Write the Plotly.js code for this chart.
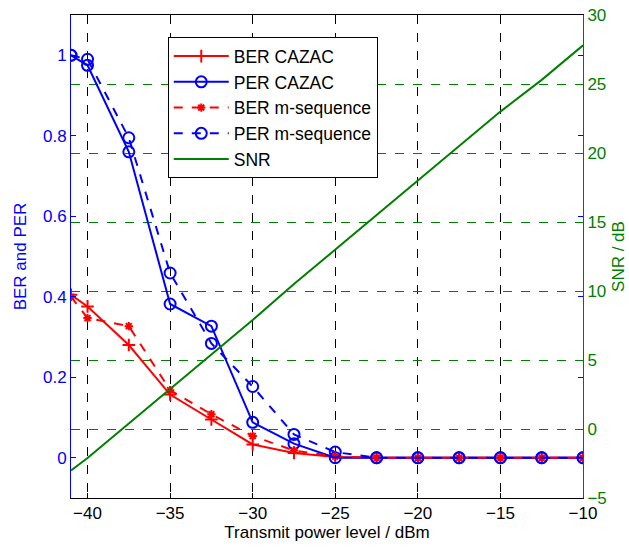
<!DOCTYPE html>
<html>
<head>
<meta charset="utf-8">
<script src="https://cdn.plot.ly/plotly-3.0.1.min.js"></script>
<style>html,body{margin:0;padding:0;background:#fff;}#chart{width:629px;height:548px;}</style>
</head>
<body>
<div id="chart"></div>
<script>
const power = [-41, -40, -37.5, -35, -32.5, -30, -27.5, -25, -22.5, -20, -17.5, -15, -12.5, -10];
const berCazac = [0.405, 0.376, 0.28, 0.157, 0.095, 0.033, 0.012, 0.002, 0, 0, 0, 0, 0, 0];
const perCazac = [1.0, 0.975, 0.76, 0.382, 0.327, 0.088, 0.035, 0, 0, 0, 0, 0, 0, 0];
const berMseq = [0.40, 0.347, 0.327, 0.168, 0.108, 0.054, 0.018, 0.003, 0, 0, 0, 0, 0, 0];
const perMseq = [1.0, 0.99, 0.795, 0.459, 0.284, 0.177, 0.058, 0.014, 0, 0, 0, 0, 0, 0];
const snr = [-3.0, -2.1, 0.4, 2.9, 5.4, 7.9, 10.5, 13.0, 15.5, 18.0, 20.5, 23.0, 25.3, 27.8];

const xTicks = [-40, -35, -30, -25, -20, -15, -10];
const yTicks = [0, 0.2, 0.4, 0.6, 0.8, 1];
const yTickText = ['0', '0.2', '0.4', '0.6', '0.8', '1'];
const y2Ticks = [-5, 0, 5, 10, 15, 20, 25, 30];

const RED = '#ff0000', BLUE = '#0000ff', GREEN = '#008000';
const FONT = 'Arial, "Liberation Sans", sans-serif';

const traces = [
  {x: power, y: berCazac, name: 'BER CAZAC', mode: 'lines+markers', legendgroup: 'a',
   line: {color: RED, width: 2}, marker: {symbol: 'cross-thin-open', size: 9, color: RED, line: {color: RED, width: 2}}},
  {x: power, y: perCazac, name: 'PER CAZAC', mode: 'lines+markers', legendgroup: 'b',
   line: {color: BLUE, width: 2}, marker: {symbol: 'circle-open', size: 11, color: BLUE, line: {color: BLUE, width: 2}}},
  {x: power, y: berMseq, name: 'BER m-sequence', mode: 'lines+markers', legendgroup: 'c',
   line: {color: RED, width: 2, dash: 'dash'}, marker: {symbol: 'asterisk-open', size: 7, color: RED, line: {color: RED, width: 2}}},
  {x: power, y: perMseq, name: 'PER m-sequence', mode: 'lines+markers', legendgroup: 'd',
   line: {color: BLUE, width: 2, dash: 'dash'}, marker: {symbol: 'circle-open', size: 11, color: BLUE, line: {color: BLUE, width: 2}}},
  {x: power, y: snr, name: 'SNR', mode: 'lines', yaxis: 'y2', legendgroup: 'e',
   line: {color: GREEN, width: 2}}
];

const layout = {
  width: 629, height: 548,
  margin: {l: 71, r: 46, t: 15, b: 50},
  paper_bgcolor: '#fff', plot_bgcolor: '#fff',
  font: {family: FONT, size: 17, color: '#000'},
  showlegend: true,
  legend: {x: 0.189, y: 0.954, xanchor: 'left', yanchor: 'top', bgcolor: '#fff',
           bordercolor: '#000', borderwidth: 1, font: {family: FONT, size: 17.5, color: '#000'},
           traceorder: 'grouped', tracegroupgap: 0, itemwidth: 55},
  xaxis: {range: [-41, -10], tickvals: xTicks, ticks: 'inside', ticklen: 5, tickcolor: '#000',
          showline: true, linecolor: '#000', linewidth: 1, mirror: 'ticks',
          showgrid: true, gridcolor: '#000', griddash: 'dash', gridwidth: 1, zeroline: false,
          tickfont: {family: FONT, size: 17, color: '#000'},
          title: {text: 'Transmit power level / dBm', font: {family: FONT, size: 17, color: '#000'}, standoff: 1}},
  yaxis: {range: [-0.1, 1.1], tickvals: yTicks, ticktext: yTickText, ticks: 'inside', ticklen: 5, tickcolor: BLUE,
          showline: true, linecolor: BLUE, linewidth: 1, mirror: 'ticks', showgrid: false, zeroline: false,
          tickfont: {family: FONT, size: 17, color: BLUE},
          title: {text: 'BER and PER', font: {family: FONT, size: 17, color: BLUE}, standoff: 12}},
  yaxis2: {range: [-5, 30], tickvals: y2Ticks, overlaying: 'y', side: 'right', ticks: 'inside', ticklen: 5,
           tickcolor: GREEN, showline: true, linecolor: '#1d5e4a', linewidth: 1,
           showgrid: true, gridcolor: GREEN, griddash: 'dash', gridwidth: 1, zeroline: false,
           tickfont: {family: FONT, size: 17, color: GREEN},
           title: {text: 'SNR / dB', font: {family: FONT, size: 17, color: GREEN}, standoff: 6}}
};

Plotly.newPlot('chart', traces, layout, {displayModeBar: false, staticPlot: true});
</script>
</body>
</html>
